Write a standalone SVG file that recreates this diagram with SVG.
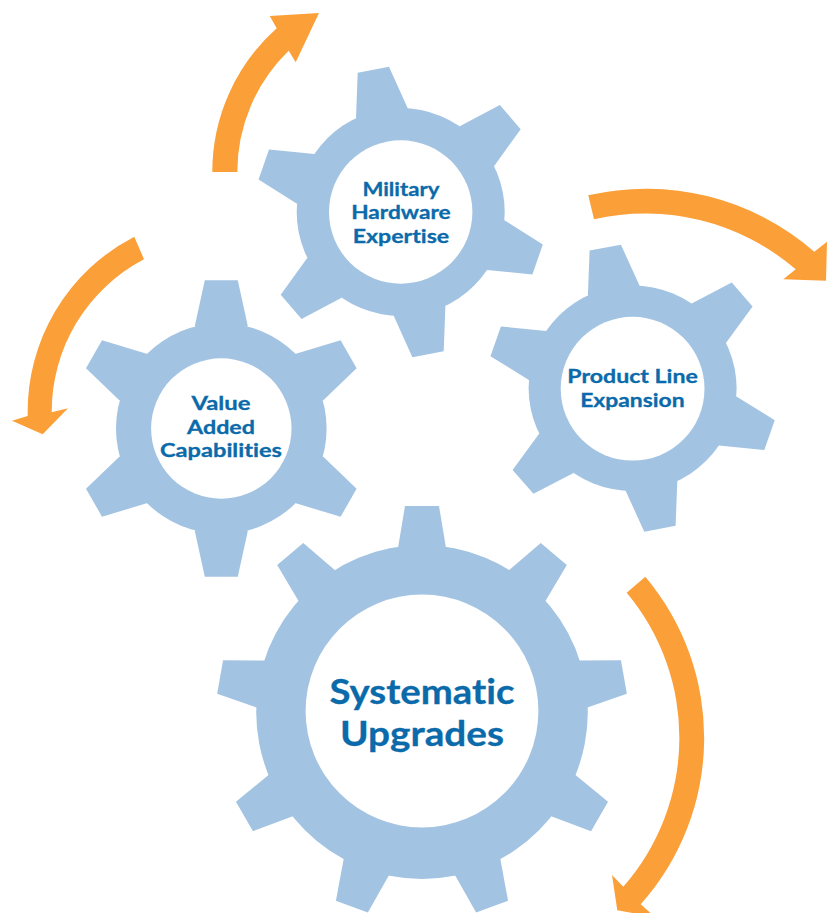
<svg xmlns="http://www.w3.org/2000/svg" width="831" height="913" viewBox="0 0 831 913">
<style>
.gear{fill:#a2c3e2}
.hole{fill:#fff}
.arrow{fill:#fb9f38}
text{font-family:"Lato","Open Sans","Liberation Sans",sans-serif;font-weight:700;fill:#0a6aaa;stroke:#0a6aaa;stroke-width:.3px;text-anchor:middle;font-variant-ligatures:none}
.s{font-size:19px}
.l{font-size:35px}
</style>
<defs>
<polygon id="t1" points="-44.7,-94 -43,-139.3 -11.7,-145.3 7,-103.7 0,-80"/>
<polygon id="t3" points="-26.5,-102.5 -16.5,-148.3 16.5,-148.3 26.5,-102.5 0,-80"/>
<polygon id="t3s" points="-74.6,-74.8 -119.3,-88.2 -135.3,-60.2 -102,-28.2 -50,-30"/>
<polygon id="t4" points="-24,-163 -17,-205 17,-205 24,-163 0,-125"/>
<g id="gear6a" class="gear"><circle r="104"/><use href="#t1"/><use href="#t1" transform="rotate(60)"/><use href="#t1" transform="rotate(120)"/><use href="#t1" transform="rotate(180)"/><use href="#t1" transform="rotate(240)"/><use href="#t1" transform="rotate(300)"/></g>
</defs>
<rect width="831" height="913" fill="#fff"/>
<g id="gear-value" transform="translate(221.3,428.5)">
<g class="gear"><circle r="105.3"/><use href="#t3"/><use href="#t3" transform="scale(1,-1)"/><use href="#t3s"/><use href="#t3s" transform="scale(-1,1)"/><use href="#t3s" transform="scale(1,-1)"/><use href="#t3s" transform="scale(-1,-1)"/></g>
<circle class="hole" r="70.2"/>
<text class="s" x="-0.3" y="-18.5" textLength="59" lengthAdjust="spacingAndGlyphs">Value</text>
<text class="s" x="-0.3" y="5.2" textLength="68" lengthAdjust="spacingAndGlyphs">Added</text>
<text class="s" x="-0.3" y="28.8" textLength="122" lengthAdjust="spacingAndGlyphs">Capabilities</text>
</g>
<g id="gear-military" transform="translate(400.7,212)">
<use href="#gear6a"/>
<circle class="hole" r="71.7"/>
<text class="s" x="0.2" y="-16" textLength="77" lengthAdjust="spacingAndGlyphs">Military</text>
<text class="s" x="0.2" y="7.3" textLength="99.5" lengthAdjust="spacingAndGlyphs">Hardware</text>
<text class="s" x="0.2" y="31.3" textLength="96.5" lengthAdjust="spacingAndGlyphs">Expertise</text>
</g>
<g id="gear-product" transform="translate(632.6,388.2)">
<use href="#gear6a" transform="scale(1,.988)"/>
<circle class="hole" cy="0.5" r="71.9"/>
<text class="s" y="-4.9" textLength="130.5" lengthAdjust="spacingAndGlyphs">Product Line</text>
<text class="s" x="-0.2" y="19.2" textLength="104.5" lengthAdjust="spacingAndGlyphs">Expansion</text>
</g>
<g id="gear-upgrades" transform="translate(422,711)">
<g class="gear"><ellipse cy="1" rx="165.8" ry="167"/><use href="#t4"/><use href="#t4" transform="rotate(40)"/><use href="#t4" transform="translate(0,1.5) rotate(80)"/><use href="#t4" transform="translate(0,3) rotate(120)"/><use href="#t4" transform="translate(0,3) rotate(160)"/><use href="#t4" transform="translate(0,3) rotate(200)"/><use href="#t4" transform="translate(0,3) rotate(240)"/><use href="#t4" transform="translate(0,1.5) rotate(280)"/><use href="#t4" transform="rotate(320)"/></g>
<circle class="hole" r="116.4"/>
<text class="l" y="-7.5" textLength="185" lengthAdjust="spacingAndGlyphs">Systematic</text>
<text class="l" y="34.8" textLength="164" lengthAdjust="spacingAndGlyphs">Upgrades</text>
</g>
<g id="connectors">
<path class="arrow" d="M212.3,172 A192.5,192.5 0 0 1 276.7,28.3 L269.7,16 L319,13 L295.7,62.3 L288.7,50.7 A168.8,168.8 0 0 0 237.3,172 Z"/>
<path class="arrow" d="M134.3,236.7 A197,197 0 0 0 27.7,416 L12,420.7 L42.7,434.3 L68,408.3 L51.7,412.3 A172,172 0 0 1 144,259.3 Z"/>
<path class="arrow" d="M588.3,195.3 A256,256 0 0 1 814.3,251.7 L827,241.7 L826,280.7 L783.3,279.3 L795.7,269.3 A231,231 0 0 0 594,219.3 Z"/>
<path class="arrow" d="M645.3,576.7 A250,250 0 0 1 640.7,904.3 L655,917 L617.3,910.3 L612,875 L623.3,886.7 A226,226 0 0 0 626.7,592.7 Z"/>
</g>
</svg>
